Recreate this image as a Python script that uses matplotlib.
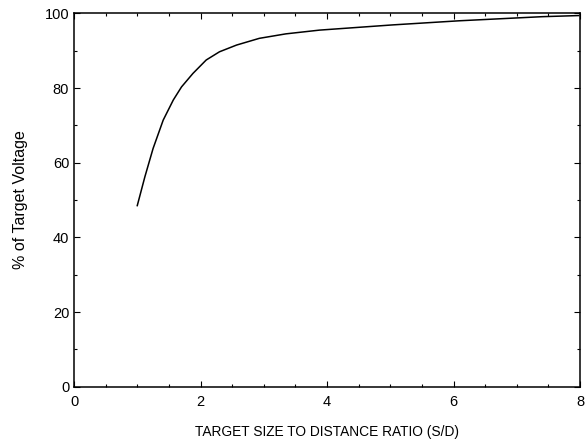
import matplotlib
matplotlib.use("Agg")
import matplotlib.pyplot as plt
from matplotlib.ticker import MultipleLocator

plt.rcParams['font.family'] = ['Liberation Sans', 'DejaVu Sans']

ratio = [1.0, 1.12, 1.25, 1.41, 1.57, 1.70, 1.88, 2.09, 2.30, 2.57, 2.93, 3.35, 3.88, 5.04, 6.09, 7.40, 7.98]
voltage = [48.5, 56.2, 63.8, 71.4, 76.8, 80.3, 83.9, 87.5, 89.7, 91.5, 93.3, 94.5, 95.5, 96.9, 98.0, 99.1, 99.4]

fig = plt.figure(figsize=(5.86, 4.44), dpi=100)
ax = fig.add_axes([0.1263, 0.129, 0.8635, 0.841])
ax.plot(ratio, voltage, color='black', lw=1.1)
ax.set_xlim(0, 8)
ax.set_ylim(0, 100)
ax.xaxis.set_major_locator(MultipleLocator(2))
ax.xaxis.set_minor_locator(MultipleLocator(0.5))
ax.yaxis.set_major_locator(MultipleLocator(20))
ax.yaxis.set_minor_locator(MultipleLocator(10))
ax.tick_params(which='both', direction='in', top=True, right=True, labelsize=10.5, width=0.8)
ax.tick_params(which='major', length=4)
ax.tick_params(which='minor', length=2.5)
ax.tick_params(axis='x', pad=6)
for s in ax.spines.values():
    s.set_linewidth(1.1)
ax.set_xlabel('TARGET SIZE TO DISTANCE RATIO (S/D)', fontsize=9.9, va='center')
ax.set_ylabel('% of Target Voltage', fontsize=11.5, va='center')
ax.xaxis.set_label_coords(0.5, -0.121)
ax.yaxis.set_label_coords(-0.105, 0.5)
fig.savefig('out.png', dpi=100)
